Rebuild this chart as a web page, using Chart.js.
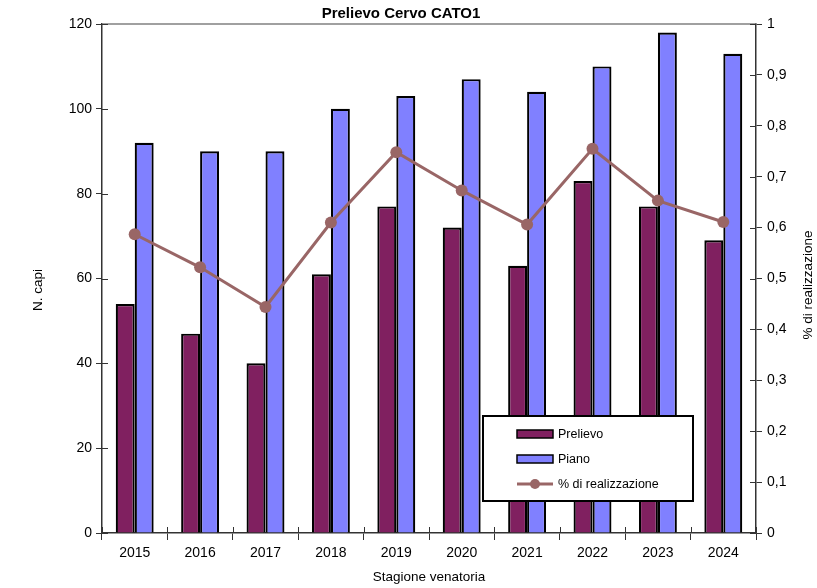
<!DOCTYPE html>
<html>
<head>
<meta charset="utf-8">
<script src="https://cdn.jsdelivr.net/npm/chart.js@4"></script>
<style>
  html, body { margin: 0; padding: 0; background: #fff; }
  #wrap { width: 817px; height: 588px; }
</style>
</head>
<body>
<div id="wrap"><canvas id="cervoChart" width="817" height="588"></canvas></div>
<script>
// Data
const stagioni = ["2015", "2016", "2017", "2018", "2019", "2020", "2021", "2022", "2023", "2024"];
const prelievo = [54, 47, 40, 61, 77, 72, 63, 83, 77, 69];
const piano = [92, 90, 90, 100, 103, 107, 104, 110, 118, 113];
const realizzazione = [0.587, 0.522, 0.444, 0.61, 0.748, 0.673, 0.606, 0.755, 0.653, 0.611];

const FONT = "'Liberation Sans', Arial, sans-serif";
const AXIS_COLOR = "#333";

// Draws title, axis titles, inner tick marks, top border and the legend box
const decorPlugin = {
    id: "decor",
    afterDraw(chart) {
        const ctx = chart.ctx;
        const area = chart.chartArea;
        const y = chart.scales.y, y1 = chart.scales.y1;
        ctx.save();

        // top border
        ctx.strokeStyle = "#808080";
        ctx.lineWidth = 1.5;
        ctx.beginPath();
        ctx.moveTo(area.left, area.top);
        ctx.lineTo(area.right, area.top);
        ctx.stroke();

        // inner part of tick marks
        ctx.strokeStyle = AXIS_COLOR;
        ctx.lineWidth = 1;
        ctx.beginPath();
        y.ticks.forEach((t, i) => {
            const py = Math.round(y.getPixelForTick(i)) + 0.5;
            ctx.moveTo(area.left, py);
            ctx.lineTo(area.left + 6, py);
        });
        y1.ticks.forEach((t, i) => {
            const py = Math.round(y1.getPixelForTick(i)) + 0.5;
            ctx.moveTo(area.right, py);
            ctx.lineTo(area.right - 6, py);
        });
        for (let i = 0; i <= stagioni.length; i++) {
            const px = Math.round(area.left + (area.right - area.left) * i / stagioni.length) + 0.5;
            ctx.moveTo(px, area.bottom);
            ctx.lineTo(px, area.bottom - 6);
        }
        ctx.stroke();

        // chart title
        ctx.fillStyle = "#000";
        ctx.font = "bold 15px " + FONT;
        ctx.textAlign = "center";
        ctx.textBaseline = "middle";
        ctx.fillText("Prelievo Cervo CATO1", 401, 14);

        // axis titles
        ctx.font = "13.5px " + FONT;
        ctx.fillText("Stagione venatoria", (area.left + area.right) / 2, 577);
        ctx.save();
        ctx.translate(38, 290);
        ctx.rotate(-Math.PI / 2);
        ctx.fillText("N. capi", 0, 0);
        ctx.restore();
        ctx.save();
        ctx.translate(808, 285);
        ctx.rotate(-Math.PI / 2);
        ctx.fillText("% di realizzazione", 0, 0);
        ctx.restore();

        // legend box
        const lx = 483, ly = 416, lw = 210, lh = 85;
        ctx.fillStyle = "#fff";
        ctx.fillRect(lx, ly, lw, lh);
        ctx.strokeStyle = "#000";
        ctx.lineWidth = 2;
        ctx.strokeRect(lx, ly, lw, lh);

        const ds = chart.data.datasets;
        const rows = [ds[1], ds[2], ds[0]];
        ctx.font = "12.5px " + FONT;
        ctx.textAlign = "left";
        rows.forEach((d, i) => {
            const cy = 434 + i * 25;
            if (d.type === "line") {
                ctx.strokeStyle = d.borderColor;
                ctx.lineWidth = 3;
                ctx.beginPath();
                ctx.moveTo(517, cy);
                ctx.lineTo(553, cy);
                ctx.stroke();
                ctx.fillStyle = d.borderColor;
                ctx.beginPath();
                ctx.arc(535, cy, 5, 0, Math.PI * 2);
                ctx.fill();
            } else {
                ctx.fillStyle = d.backgroundColor;
                ctx.fillRect(517, cy - 4, 36, 8);
                ctx.strokeStyle = "#000";
                ctx.lineWidth = 1.5;
                ctx.strokeRect(517, cy - 4, 36, 8);
            }
            ctx.fillStyle = "#000";
            ctx.fillText(d.label, 558, cy + 1);
        });

        ctx.restore();
    }
};

const ctx = document.getElementById("cervoChart").getContext("2d");
new Chart(ctx, {
    data: {
        labels: stagioni,
        datasets: [
            {
                type: "line",
                label: "% di realizzazione",
                data: realizzazione,
                yAxisID: "y1",
                borderColor: "#996666",
                backgroundColor: "#996666",
                borderWidth: 3,
                pointRadius: 6,
                pointBackgroundColor: "#996666",
                pointBorderWidth: 0,
                order: 0
            },
            {
                type: "bar",
                label: "Prelievo",
                data: prelievo,
                yAxisID: "y",
                backgroundColor: "#802060",
                borderColor: "#000",
                borderWidth: 2.2,
                categoryPercentage: 0.58,
                barPercentage: 1,
                order: 1
            },
            {
                type: "bar",
                label: "Piano",
                data: piano,
                yAxisID: "y",
                backgroundColor: "#8080FF",
                borderColor: "#000",
                borderWidth: 2.2,
                categoryPercentage: 0.58,
                barPercentage: 1,
                order: 1
            }
        ]
    },
    options: {
        responsive: false,
        animation: false,
        layout: { padding: { top: 24, left: 0, right: 0, bottom: 0 } },
        plugins: {
            legend: { display: false },
            title: { display: false },
            tooltip: { enabled: false }
        },
        scales: {
            x: {
                grid: { offset: true, drawOnChartArea: false, drawTicks: true, tickLength: 7, color: AXIS_COLOR },
                border: { display: true, color: AXIS_COLOR, width: 1.5 },
                ticks: { color: "#000", font: { family: FONT, size: 14 }, padding: 5, maxRotation: 0 },
                afterFit(scale) { scale.height = 55; }
            },
            y: {
                position: "left",
                min: 0,
                max: 120,
                grid: { drawOnChartArea: false, drawTicks: true, tickLength: 6, color: AXIS_COLOR },
                border: { display: true, color: AXIS_COLOR, width: 1.5 },
                ticks: { stepSize: 20, color: "#000", font: { family: FONT, size: 14 }, padding: 4 },
                afterFit(scale) { scale.width = 102; }
            },
            y1: {
                position: "right",
                min: 0,
                max: 1,
                grid: { drawOnChartArea: false, drawTicks: true, tickLength: 6, color: AXIS_COLOR },
                border: { display: true, color: AXIS_COLOR, width: 1.5 },
                ticks: {
                    stepSize: 0.1,
                    color: "#000",
                    font: { family: FONT, size: 14 },
                    padding: 5,
                    callback: v => (Math.round(v * 10) / 10).toString().replace(".", ",")
                },
                afterFit(scale) { scale.width = 61; }
            }
        }
    },
    plugins: [decorPlugin]
});
</script>
</body>
</html>
